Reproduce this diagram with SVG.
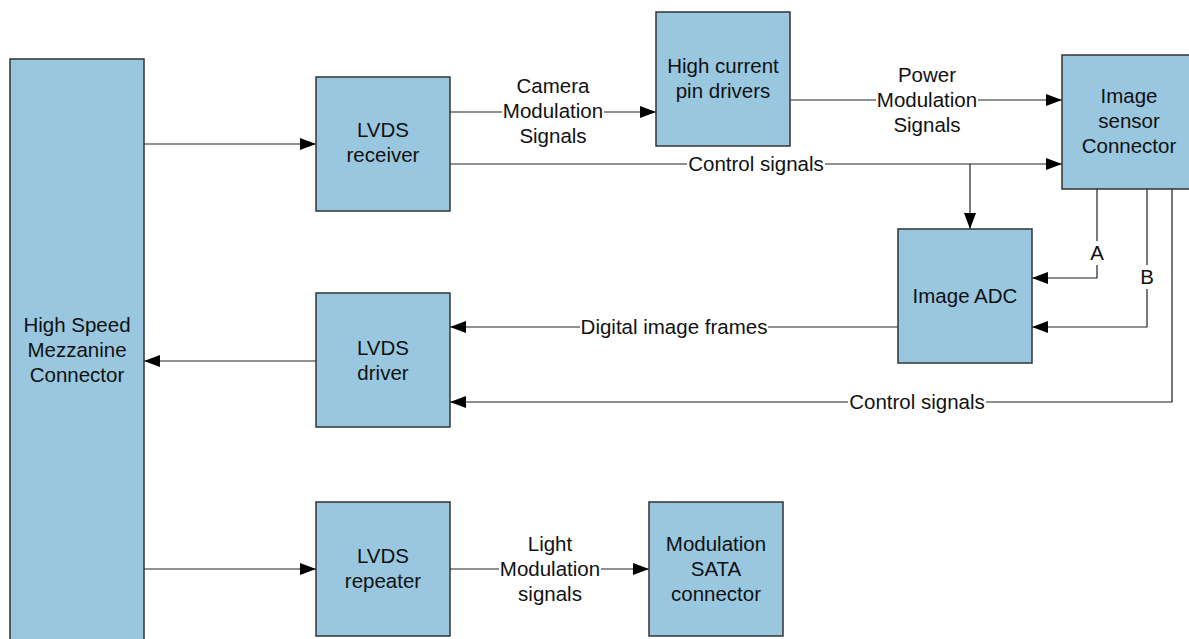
<svg xmlns="http://www.w3.org/2000/svg" width="1189" height="639" viewBox="0 0 1189 639">
<style>
.box{fill:#98c7df;stroke:#333;stroke-width:1.5}
.t{font-family:"Liberation Sans",Arial,sans-serif;font-size:20.5px;fill:#111;text-anchor:middle}
.ln{fill:none;stroke:#222;stroke-width:1.2}
.bg{fill:#fff}
</style>
<defs>
<marker id="ah" markerUnits="userSpaceOnUse" markerWidth="16" markerHeight="12" refX="16" refY="6" orient="auto">
<path d="M0,0 L16,6 L0,12 z" fill="#000"/>
</marker>
</defs>
<rect width="1189" height="639" fill="#fff"/>
<g id="connectors">
<path class="ln" d="M144,144 H316" marker-end="url(#ah)"/>
<path class="ln" d="M450,112 H656" marker-end="url(#ah)"/>
<path class="ln" d="M790,100 H1062" marker-end="url(#ah)"/>
<path class="ln" d="M450,164 H1062" marker-end="url(#ah)"/>
<path class="ln" d="M970,164 V229" marker-end="url(#ah)"/>
<path class="ln" d="M1097,189 V278 H1032" marker-end="url(#ah)"/>
<path class="ln" d="M1147,189 V327 H1032" marker-end="url(#ah)"/>
<path class="ln" d="M898,327 H450" marker-end="url(#ah)"/>
<path class="ln" d="M1172,189 V402 H450" marker-end="url(#ah)"/>
<path class="ln" d="M316,361 H144" marker-end="url(#ah)"/>
<path class="ln" d="M144,569 H316" marker-end="url(#ah)"/>
<path class="ln" d="M450,569 H649" marker-end="url(#ah)"/>
<rect class="bg" x="502" y="74" width="102" height="72"/>
<text class="t" x="553" y="93">Camera</text>
<text class="t" x="553" y="118">Modulation</text>
<text class="t" x="553" y="143">Signals</text>
<rect class="bg" x="876" y="62" width="102" height="72"/>
<text class="t" x="927" y="82">Power</text>
<text class="t" x="927" y="107">Modulation</text>
<text class="t" x="927" y="132">Signals</text>
<rect class="bg" x="687" y="152" width="138" height="24"/>
<text class="t" x="756" y="171">Control signals</text>
<rect class="bg" x="1090" y="241" width="14" height="24"/>
<text class="t" x="1097" y="260">A</text>
<rect class="bg" x="1140" y="265" width="14" height="24"/>
<text class="t" x="1147" y="284">B</text>
<rect class="bg" x="580" y="315" width="188" height="24"/>
<text class="t" x="674" y="334">Digital image frames</text>
<rect class="bg" x="848" y="390" width="138" height="24"/>
<text class="t" x="917" y="409">Control signals</text>
<rect class="bg" x="499" y="532" width="102" height="72"/>
<text class="t" x="550" y="551">Light</text>
<text class="t" x="550" y="576">Modulation</text>
<text class="t" x="550" y="601">signals</text>
</g>
<g id="mezzanine">
<rect class="box" x="10" y="59" width="134" height="600"/>
<text class="t" x="77" y="332">High Speed</text>
<text class="t" x="77" y="357">Mezzanine</text>
<text class="t" x="77" y="382">Connector</text>
</g>
<g id="lvds-receiver">
<rect class="box" x="316" y="77" width="134" height="134"/>
<text class="t" x="383" y="137">LVDS</text>
<text class="t" x="383" y="162">receiver</text>
</g>
<g id="pin-drivers">
<rect class="box" x="656" y="12" width="134" height="134"/>
<text class="t" x="723" y="73">High current</text>
<text class="t" x="723" y="98">pin drivers</text>
</g>
<g id="image-sensor">
<rect class="box" x="1062" y="55" width="134" height="134"/>
<text class="t" x="1129" y="103">Image</text>
<text class="t" x="1129" y="128">sensor</text>
<text class="t" x="1129" y="153">Connector</text>
</g>
<g id="image-adc">
<rect class="box" x="898" y="229" width="134" height="134"/>
<text class="t" x="965" y="303">Image ADC</text>
</g>
<g id="lvds-driver">
<rect class="box" x="316" y="293" width="134" height="134"/>
<text class="t" x="383" y="355">LVDS</text>
<text class="t" x="383" y="380">driver</text>
</g>
<g id="lvds-repeater">
<rect class="box" x="316" y="502" width="134" height="134"/>
<text class="t" x="383" y="563">LVDS</text>
<text class="t" x="383" y="588">repeater</text>
</g>
<g id="sata">
<rect class="box" x="649" y="502" width="134" height="134"/>
<text class="t" x="716" y="551">Modulation</text>
<text class="t" x="716" y="576">SATA</text>
<text class="t" x="716" y="601">connector</text>
</g>
</svg>
